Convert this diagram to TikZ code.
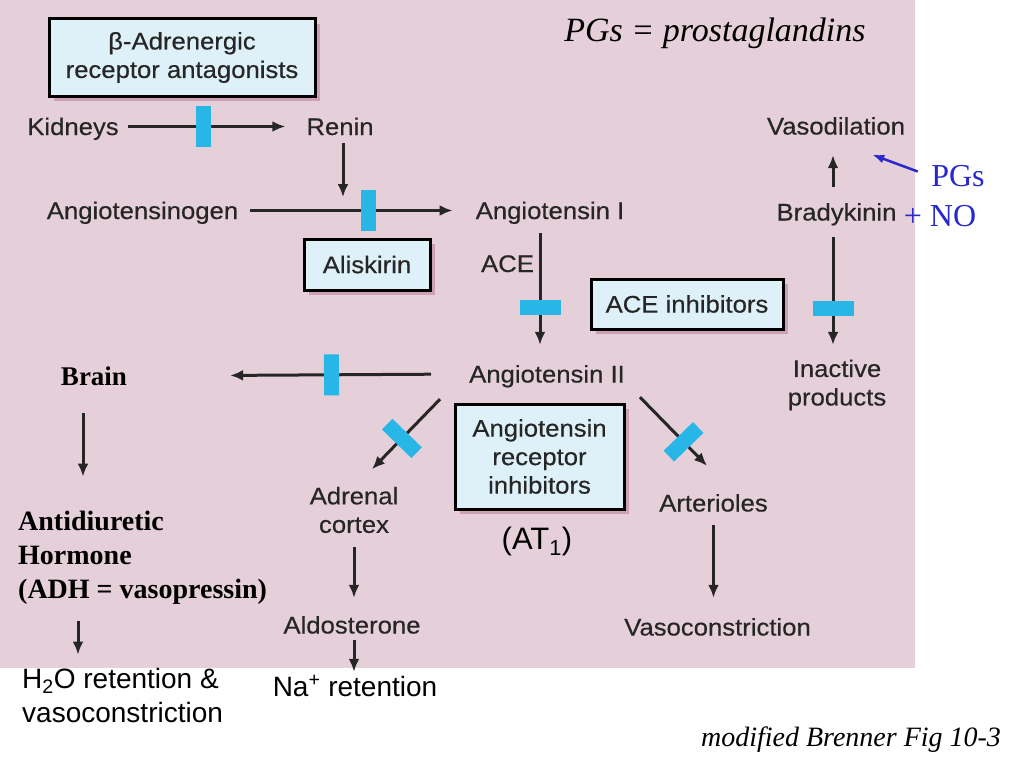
\documentclass[tikz,border=0pt]{standalone}
\usepackage{fontspec}
\setmainfont{Liberation Serif}
\setsansfont{Liberation Sans}
\newfontfamily\figfont[FakeStretch=1.07,FakeBold=0.4]{Liberation Sans}
\usetikzlibrary{arrows.meta}
\usetikzlibrary{shadows}
\definecolor{bgpink}{RGB}{229,208,218}
\definecolor{boxblue}{RGB}{222,241,249}
\definecolor{barcyan}{RGB}{40,182,230}
\definecolor{inkgray}{RGB}{38,38,38}
\definecolor{shadowpink}{RGB}{205,160,180}
\definecolor{noteblue}{RGB}{40,40,205}
\tikzset{arr/.style = {draw=inkgray, line width=3pt, -{Latex[length=13pt,width=11pt]}}}
\tikzset{notearr/.style = {draw=noteblue, line width=2.5pt, -{Latex[length=12pt,width=9pt]}}}
\tikzset{blockbar/.style = {fill=barcyan, sloped, inner sep=0, minimum width=15pt, minimum height=41pt}}
\tikzset{lbl/.style = {font=\figfont\fontsize{24}{28.5}\selectfont, text=inkgray, inner sep=4pt}}
\tikzset{oneline/.style = {lbl, text height=17pt, text depth=0pt}}
\tikzset{drugbox/.style = {lbl, align=center, draw=black, line width=3pt, fill=boxblue, drop shadow={shadow xshift=5pt, shadow yshift=-5pt, fill=shadowpink, opacity=1}}}
\tikzset{boldnote/.style = {font=\bfseries\fontsize{28}{34}\selectfont, inner sep=4pt}}
\tikzset{plainnote/.style = {font=\sffamily\fontsize{28}{34}\selectfont, inner sep=4pt}}
\tikzset{bluenote/.style = {font=\fontsize{32}{38}\selectfont, text=noteblue, inner sep=4pt, text height=22pt, text depth=0pt}}

\begin{document}
\begin{tikzpicture}[x=1pt, y=-1pt]
    \useasboundingbox (0,0) rectangle (1024,768);
    \fill [bgpink] (0,0) rectangle (915,668);
    \node [drugbox, minimum width=266pt, minimum height=77pt] (beta) at (182,57.5) {β-Adrenergic\\receptor antagonists};
    \node [drugbox, minimum width=126pt, minimum height=51pt] (aliskirin) at (367,264.5) {Aliskirin};
    \node [drugbox, minimum width=192pt, minimum height=50pt] (aceinh) at (687,304) {ACE inhibitors};
    \node [drugbox, minimum width=169pt, minimum height=105pt] (arb) at (539.5,456.5) {Angiotensin\\receptor\\inhibitors};
    \node [oneline] (kidneys) at (73,126.5) {Kidneys};
    \node [oneline] (renin) at (340,126.5) {Renin};
    \node [oneline] (agen) at (142.5,210.5) {Angiotensinogen};
    \node [oneline] (ang1) at (550,210.5) {Angiotensin I};
    \node [oneline] (ace) at (507.5,263.5) {ACE};
    \node [oneline] (ang2) at (547,374) {Angiotensin II};
    \node [lbl, align=center] (adrenal) at (354,510) {Adrenal\\cortex};
    \node [oneline] (aldo) at (352,625) {Aldosterone};
    \node [oneline] (arter) at (713.5,503) {Arterioles};
    \node [oneline] (vcon) at (717.5,627) {Vasoconstriction};
    \node [oneline] (vdil) at (836,126) {Vasodilation};
    \node [oneline] (brady) at (836.5,212) {Bradykinin};
    \node [lbl, align=center] (inact) at (837,385) {Inactive\\products};
    \node [boldnote, font=\bfseries\fontsize{27}{34}\selectfont, text height=18pt, text depth=0pt] (brain) at (94,376) {Brain};
    \node [boldnote, align=left, anchor=west] (adh) at (14,557.5) {Antidiuretic\\Hormone\\(ADH = vasopressin)};
    \node [plainnote, align=left, anchor=west] (h2o) at (18,695) {H\textsubscript{2}O retention \&\\vasoconstriction};
    \node [plainnote, text height=20pt, text depth=0pt] (na) at (355,686) {Na\textsuperscript{+} retention};
    \node [font=\sffamily\fontsize{31}{36}\selectfont, text height=22pt, text depth=0pt] (at1) at (537,538.5) {(AT\textsubscript{1})};
    \node [bluenote] (pgs) at (958,175) {PGs};
    \node [bluenote] (no) at (940,215) {+ NO};
    \node [font=\itshape\fontsize{34}{38}\selectfont] (title) at (715,33) {PGs = prostaglandins};
    \node [font=\itshape\fontsize{28}{32}\selectfont] (source) at (851,740) {modified Brenner Fig 10-3};
    \coordinate (j1) at (343,197);
    \draw [arr, shorten <=5pt, shorten >=17pt] (kidneys.east) -- node [blockbar, pos=.45] (bar1) {} (renin.west);
    \draw [arr, shorten <=4pt] (renin.south -| j1) -- (j1);
    \draw [arr, shorten <=8pt, shorten >=19pt] (agen.east) -- node [blockbar, pos=.55] (bar2) {} (ang1.west);
    \draw [arr, shorten <=10pt, shorten >=16.5pt] ([xshift=-10pt]ang1.south) -- node [blockbar, pos=.61] (bar3) {} ([xshift=-7pt]ang2.north);
    \draw [arr, shorten <=34pt, shorten >=99pt] (ang2.west) -- node [blockbar, pos=.40] (bar4) {} (brain.east);
    \draw [arr] ([shift={(-25,12.5)}]ang2.south west) -- node [blockbar, pos=.56] (bar5) {} ([shift={(18,-13.5)}]adrenal.north);
    \draw [arr] ([shift={(11,10.5)}]ang2.south east) -- node [blockbar, pos=.65] (bar6) {} ([shift={(-6.5,-24.5)}]arter.north);
    \draw [arr, shorten <=12.5pt, shorten >=10.5pt] ([xshift=-3.5pt]brady.south) -- node [blockbar, pos=.64] (bar7) {} ([xshift=-4pt]inact.north);
    \draw [arr, shorten <=12.5pt, shorten >=16.5pt] ([xshift=-3.5pt]brady.north) -- ([xshift=-3pt]vdil.south);
    \draw [arr, shorten <=10pt, shorten >=14.5pt] (adrenal.south) -- (adrenal.south |- aldo.north);
    \draw [arr, shorten <=2pt] ([xshift=2pt]aldo.south) -- ([xshift=2pt]aldo.south |- na.north);
    \draw [arr, shorten <=9.5pt, shorten >=16.5pt] (arter.south) -- (arter.south |- vcon.north);
    \draw [arr, shorten <=24pt, shorten >=30pt] ([xshift=-11pt]brain.south) -- ([xshift=-11pt]brain.south |- adh.north);
    \draw [arr, shorten <=13pt, shorten >=9pt] ([xshift=64pt]adh.south west) -- ([xshift=64pt]adh.south west |- h2o.north);
    \draw [notearr, shorten <=10pt] (pgs.west) -- ([shift={(-37,16)}]vdil.south east);
\end{tikzpicture}
\end{document}
